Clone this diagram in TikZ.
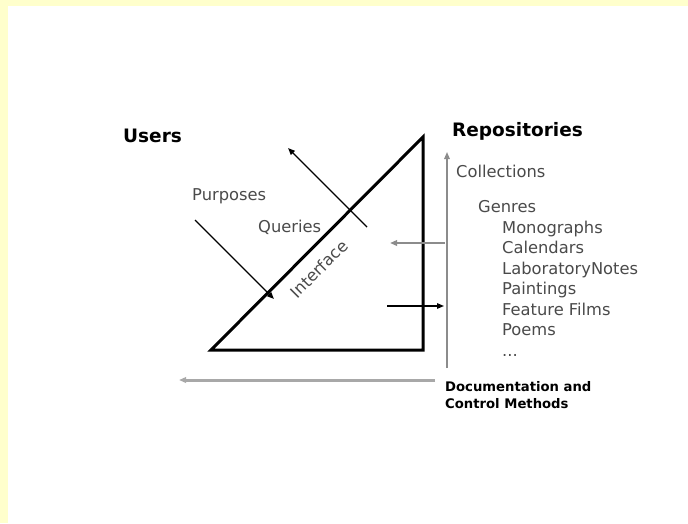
\documentclass[tikz,border=0pt]{standalone}
\usepackage{fontspec}
\setmainfont{DejaVu Sans}
\usetikzlibrary{arrows.meta}
\definecolor{bgyellow}{HTML}{FFFFCC}
\definecolor{txtgray}{HTML}{4A4A4A}
\definecolor{lgray}{HTML}{A8A8A8}
\definecolor{mgray}{HTML}{8C8C8C}
\begin{document}
\begin{tikzpicture}[x=1pt,y=-1pt,
  lbl/.style={inner sep=0pt, anchor=base west, text=txtgray, font=\fontsize{16.3}{16.3}\selectfont},
  head/.style={inner sep=0pt, anchor=base west, font=\fontsize{18.5}{18.5}\selectfont\bfseries},
  small/.style={inner sep=0pt, anchor=base west, font=\fontsize{13.2}{13.2}\selectfont\bfseries},
  tip/.style={-{Triangle[length=7pt,width=5.5pt]}},
  tri/.style={line width=3pt, line join=miter},
  blk/.style={tip, line width=1.4pt},
]
% background
\fill[bgyellow] (0,0) rectangle (688,523);
\fill[white] (8,6) rectangle (688,523);
\useasboundingbox (0,0) rectangle (688,523);

% triangle vertices
\coordinate (A) at (211,350);
\coordinate (B) at (423,137);
\coordinate (C) at (423,350);
\draw[tri] (A) -- (B) -- (C) -- cycle;

% arrow end points
\coordinate (q1) at (367,227);
\coordinate (q2) at (288,148);
\coordinate (p1) at (195,220);
\coordinate (p2) at (274,299);
\coordinate (g1) at (445,243);
\coordinate (g2) at (390,243);
\coordinate (b1) at (387,306);
\coordinate (b2) at (444,306);
\coordinate (v1) at (447,368);
\coordinate (v2) at (447,152);
\coordinate (d1) at (435,380);
\coordinate (d2) at (179,380);

\draw[blk] (q1) -- (q2);
\draw[blk] (p1) -- (p2);
\draw[tip, line width=2.2pt, color=mgray] (g1) -- (g2);
\draw[blk, line width=1.3pt] (b1) -- (b2);
\draw[tip, line width=1.5pt, color=mgray] (v1) -- (v2);
\draw[tip, line width=3pt, color=lgray] (d1) -- (d2);

% labels
\node[head] (users) at (123,142) {Users};
\node[head] (repos) at (452,136) {Repositories};
\node[lbl] (purp) at (192,200) {Purposes};
\node[lbl] (quer) at (258,232) {Queries};
\node[lbl, anchor=center, rotate=45] (intf) at (319,269) {Interface};
\node[lbl] (coll) at (456,177) {Collections};
\node[lbl] (genr) at (478,212.5) {Genres};
\node[lbl] (mono) at (502,233.5) {Monographs};
\node[lbl] (cale) at (502,253.8) {Calendars};
\node[lbl] (labn) at (502,274.2) {LaboratoryNotes};
\node[lbl] (pain) at (502,294.6) {Paintings};
\node[lbl] (feat) at (502,315) {Feature Films};
\node[lbl] (poem) at (502,335.4) {Poems};
\node[lbl] (dots) at (502,356) {...};
\node[small] (doc1) at (445,391) {Documentation and};
\node[small] (doc2) at (445,408) {Control Methods};
\end{tikzpicture}
\end{document}
